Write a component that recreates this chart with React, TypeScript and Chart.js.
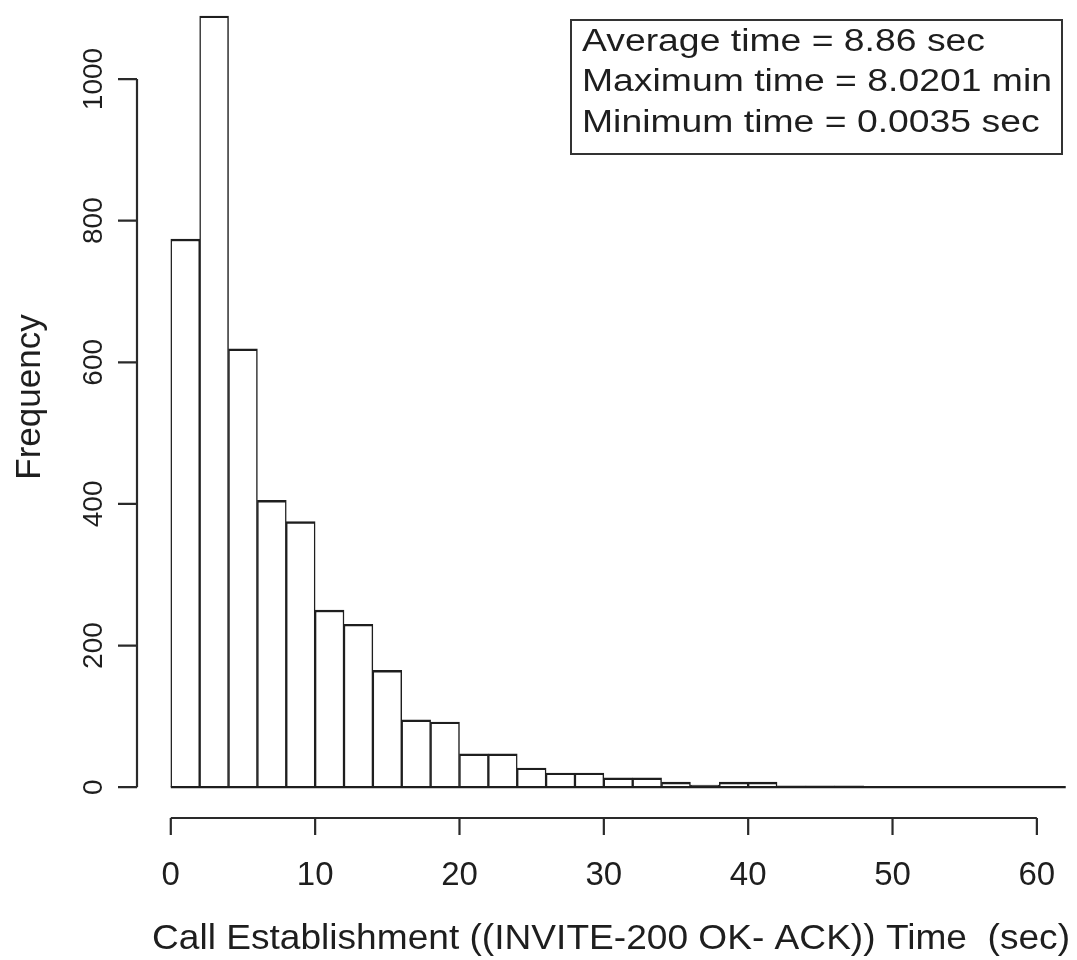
import React, { useEffect, useRef } from "react";
import { Chart, registerables } from "chart.js";

Chart.register(...registerables);

// Histogram breaks (sec) and bin counts
const breaks = [0, 2, 4, 6, 8, 10, 12, 14, 16, 18, 20, 22, 24, 26, 28, 30, 32, 34, 36, 38, 40, 42, 44, 46, 48, 50, 52, 54, 56, 58, 60, 62];
const counts = [774, 1089, 619, 405, 375, 250, 230, 165, 95, 92, 47, 47, 27, 20, 20, 13, 13, 7, 3, 7, 7, 2, 2, 2, 0, 0, 0, 0, 0, 0, 0];
const xTicks = [0, 10, 20, 30, 40, 50, 60];
const yTicks = [0, 200, 400, 600, 800, 1000];
const statsLines = ["Average time = 8.86 sec", "Maximum time = 8.0201 min", "Minimum time = 0.0035 sec"];
const xTitle = "Call Establishment ((INVITE-200 OK- ACK)) Time  (sec)";
const yTitle = "Frequency";

const FONT = "'Liberation Sans', Arial, sans-serif";
const INK = "#1e1e1e";

const rAxesPlugin = {
  id: "rAxes",
  afterDraw(chart: any) {
    const { ctx, chartArea } = chart;
    const xs = chart.scales.x;
    const ys = chart.scales.y;
    ctx.save();
    ctx.strokeStyle = INK;
    ctx.fillStyle = INK;

    // baseline of histogram (includes empty bins)
    const y0 = ys.getPixelForValue(0);
    ctx.lineWidth = 2.2;
    ctx.beginPath();
    ctx.moveTo(xs.getPixelForValue(breaks[0]), y0);
    ctx.lineTo(xs.getPixelForValue(breaks[breaks.length - 1]), y0);
    ctx.stroke();

    // x axis (detached, R style)
    const axY = chartArea.bottom;
    ctx.lineWidth = 2.2;
    ctx.strokeStyle = "#2a2a2a";
    ctx.beginPath();
    ctx.moveTo(xs.getPixelForValue(xTicks[0]), axY);
    ctx.lineTo(xs.getPixelForValue(xTicks[xTicks.length - 1]), axY);
    xTicks.forEach((t) => {
      const px = xs.getPixelForValue(t);
      ctx.moveTo(px, axY);
      ctx.lineTo(px, axY + 17);
    });
    ctx.stroke();
    ctx.font = `33px ${FONT}`;
    ctx.textAlign = "center";
    ctx.textBaseline = "alphabetic";
    xTicks.forEach((t) => {
      ctx.fillText(String(t), xs.getPixelForValue(t), axY + 67);
    });

    // y axis
    const axX = chartArea.left + 2;
    ctx.beginPath();
    ctx.moveTo(axX, ys.getPixelForValue(yTicks[0]));
    ctx.lineTo(axX, ys.getPixelForValue(yTicks[yTicks.length - 1]));
    yTicks.forEach((t) => {
      const py = ys.getPixelForValue(t);
      ctx.moveTo(axX, py);
      ctx.lineTo(axX - 19, py);
    });
    ctx.stroke();
    ctx.font = `28px ${FONT}`;
    yTicks.forEach((t) => {
      ctx.save();
      ctx.translate(axX - 35, ys.getPixelForValue(t));
      ctx.rotate(-Math.PI / 2);
      ctx.textAlign = "center";
      ctx.fillText(String(t), 0, 0);
      ctx.restore();
    });

    // y title
    ctx.save();
    ctx.font = `35px ${FONT}`;
    ctx.translate(40, 397);
    ctx.rotate(-Math.PI / 2);
    ctx.textAlign = "center";
    ctx.fillText(yTitle, 0, 0);
    ctx.restore();

    // x title
    ctx.save();
    ctx.font = `35px ${FONT}`;
    ctx.textAlign = "left";
    const tw = ctx.measureText(xTitle).width;
    const sx = 918 / tw;
    ctx.translate(152, 949);
    ctx.scale(sx, 1);
    ctx.fillText(xTitle, 0, 0);
    ctx.restore();

    // stats box
    ctx.lineWidth = 2;
    ctx.strokeStyle = "#333";
    ctx.strokeRect(571, 20, 491, 134);
    ctx.save();
    ctx.font = `31px ${FONT}`;
    ctx.textAlign = "left";
    const w1 = ctx.measureText(statsLines[0]).width;
    const s2 = 403 / w1;
    const baselines = [51, 91, 132];
    statsLines.forEach((line, i) => {
      ctx.save();
      ctx.translate(582, baselines[i]);
      ctx.scale(s2, 1);
      ctx.fillText(line, 0, 0);
      ctx.restore();
    });
    ctx.restore();

    ctx.restore();
  },
};

export default function App() {
  const ref = useRef<HTMLCanvasElement | null>(null);

  useEffect(() => {
    if (!ref.current) return;
    const data = counts.map((c, i) => ({
      x: (breaks[i] + breaks[i + 1]) / 2,
      y: c,
    }));
    const chart = new Chart(ref.current, {
      type: "bar",
      data: {
        datasets: [
          {
            data: data as any,
            backgroundColor: "#ffffff",
            borderColor: INK,
            borderWidth: { top: 2.4, left: 1.5, right: 1.5, bottom: 0 } as any,
            barPercentage: 1,
            categoryPercentage: 1,
          },
        ],
      },
      options: {
        responsive: false,
        animation: false,
        layout: { padding: { left: 135, right: 0, top: 0, bottom: 142 } },
        scales: {
          x: { type: "linear", display: false, offset: false, min: -2.48, max: 62.78 },
          y: { type: "linear", display: false, min: -43.56, max: 1111.6 },
        },
        plugins: {
          legend: { display: false },
          tooltip: { enabled: false },
        },
      },
      plugins: [rAxesPlugin],
    });
    return () => chart.destroy();
  }, []);

  return (
    <div style={{ position: "absolute", left: 0, top: 0, width: 1077, height: 960, background: "#fff" }}>
      <canvas ref={ref} width={1077} height={960} style={{ display: "block" }} />
    </div>
  );
}
